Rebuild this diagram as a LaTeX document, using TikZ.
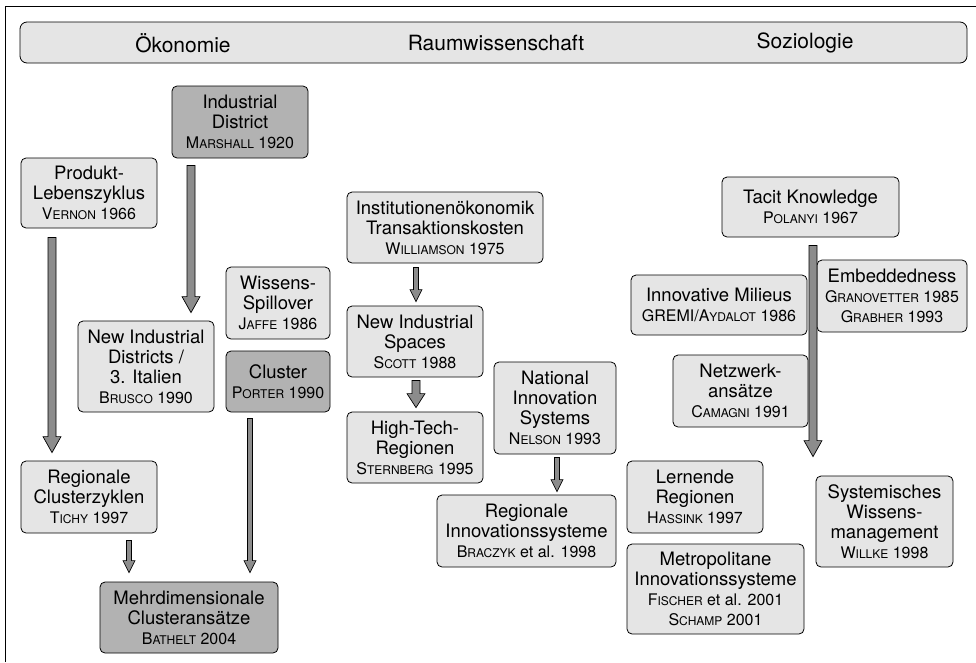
\documentclass[tikz,border=0pt]{standalone}
\usepackage{fontspec}
\setmainfont{TeX Gyre Heros}
\usetikzlibrary{calc}

\definecolor{boxlight}{gray}{0.90}
\definecolor{boxdark}{gray}{0.70}
\definecolor{arrgray}{gray}{0.55}

\newcommand{\kap}[1]{{\fontsize{12}{19}\selectfont\MakeUppercase{#1}}}
\newcommand{\yr}{\fontsize{16}{19}\selectfont}
\newcommand{\blockarrow}[5]{%
    \draw[barrow] let \p1=#1, \p2=#2 in
        (\x1-#3,\y1) -- (\x1-#3,\y2+#5) -- (\x1-#4,\y2+#5) -- (\x1,\y2)
        -- (\x1+#4,\y2+#5) -- (\x1+#3,\y2+#5) -- (\x1+#3,\y1) -- cycle;}

\tikzset{
    box/.style={draw, line width=0.8pt, rounded corners=5pt, fill=boxlight,
        align=center, inner sep=2pt, font=\fontsize{18.5}{20}\selectfont},
    darkbox/.style={box, fill=boxdark},
    barrow/.style={draw, line width=0.7pt, fill=arrgray, line join=miter},
    head/.style={font=\fontsize{21}{24}\selectfont}
}

\begin{document}
\begin{tikzpicture}[x=1pt, y=-1pt]

    \useasboundingbox (0,0) rectangle (976,662);
    \draw[line width=0.8pt] (5,662) -- (5,6) -- (976,6);

    \node[draw, line width=0.8pt, rounded corners=7pt, fill=boxlight,
        minimum width=947pt, minimum height=41pt] (bar) at (493.5,42.5) {};
    \node[head] (oek) at (183,43) {Ökonomie};
    \node[head] (raum) at (496,43) {Raumwissenschaft};
    \node[head] (soz) at (805,43) {Soziologie};

    % Oekonomie
    \node[darkbox, minimum width=136pt, minimum height=72pt] (indDist) at (240,122)
        {Industrial\\District\\\yr M\kap{arshall} 1920};
    \node[box, minimum width=136pt, minimum height=70pt] (produkt) at (89,193)
        {Produkt-\\Lebenszyklus\\\yr V\kap{ernon} 1966};
    \node[box, minimum width=104pt, minimum height=72pt] (wissens) at (278,303)
        {Wissens-\\Spillover\\\yr J\kap{affe} 1986};
    \node[darkbox, minimum width=104pt, minimum height=61pt] (cluster) at (278,381.5)
        {Cluster\\\yr P\kap{orter} 1990};
    \node[box, minimum width=136pt, minimum height=91pt] (newDist) at (146,366.5)
        {New Industrial\\Districts /\\3. Italien\\\yr B\kap{rusco} 1990};
    \node[box, minimum width=136pt, minimum height=72pt] (regClust) at (89,497)
        {Regionale\\Clusterzyklen\\\yr T\kap{ichy} 1997};
    \node[darkbox, minimum width=178pt, minimum height=71pt] (mehrdim) at (189,617.5)
        {Mehrdimensionale\\Clusteransätze\\\yr B\kap{athelt} 2004};

    % Raumwissenschaft
    \node[box, minimum width=196pt, minimum height=71pt] (instOek) at (445,227.5)
        {Institutionenökonomik\\Transaktionskosten\\\yr W\kap{illiamson} 1975};
    \node[box, minimum width=136pt, minimum height=71pt] (newSpaces) at (415,341.5)
        {New Industrial\\Spaces\\\yr S\kap{cott} 1988};
    \node[box, minimum width=136pt, minimum height=71pt] (highTech) at (415,447.5)
        {High-Tech-\\Regionen\\\yr S\kap{ternberg} 1995};
    \node[box, minimum width=122pt, minimum height=92pt] (natInno) at (555,408)
        {National\\Innovation\\Systems\\\yr N\kap{elson} 1993};
    \node[box, minimum width=179pt, minimum height=72pt] (regInno) at (526.5,531)
        {Regionale\\Innovationssysteme\\\yr B\kap{raczyk} et al. 1998};

    % Soziologie
    \node[box, minimum width=177pt, minimum height=60pt] (tacit) at (810.5,207)
        {Tacit Knowledge\\\yr P\kap{olanyi} 1967};
    \node[box, minimum width=176pt, minimum height=60pt] (innoMil) at (719,305)
        {Innovative Milieus\\\yr GREMI/A\kap{ydalot} 1986};
    \node[box, minimum width=150pt, minimum height=72pt] (embedded) at (892,296)
        {Embeddedness\\\yr G\kap{ranovetter} 1985\\\yr G\kap{rabher} 1993};
    \node[box, minimum width=135pt, minimum height=72pt] (netzwerk) at (740.5,391)
        {Netzwerk-\\ansätze\\\yr C\kap{amagni} 1991};
    \node[box, minimum width=136pt, minimum height=72pt] (lernend) at (695,497)
        {Lernende\\Regionen\\\yr H\kap{assink} 1997};
    \node[box, minimum width=177pt, minimum height=90pt] (metro) at (715.5,589)
        {Metropolitane\\Innovationssysteme\\\yr F\kap{ischer} et al. 2001\\\yr S\kap{champ} 2001};
    \node[box, minimum width=137pt, minimum height=91pt] (system) at (884.5,521.5)
        {Systemisches\\Wissens-\\management\\\yr W\kap{illke} 1998};

    % Pfeile
    \blockarrow{([xshift=-49pt,yshift=-7pt]indDist.south)}{([yshift=8pt]newDist.north)}{4pt}{9pt}{16pt}
    \blockarrow{([xshift=-37pt,yshift=-9pt]produkt.south)}{([yshift=8pt]regClust.north)}{4pt}{9pt}{16pt}
    \blockarrow{([xshift=-28pt,yshift=-6pt]cluster.south)}{([yshift=9pt]mehrdim.north)}{2.5pt}{6pt}{12pt}
    \blockarrow{([xshift=40pt,yshift=-7pt]regClust.south)}{([yshift=9pt]mehrdim.north)}{2.5pt}{6pt}{12pt}
    \blockarrow{([xshift=-29pt,yshift=-4pt]instOek.south)}{([yshift=4pt]newSpaces.north)}{2.5pt}{6pt}{12pt}
    \blockarrow{([xshift=1pt,yshift=-3pt]newSpaces.south)}{([yshift=4pt]highTech.north)}{4pt}{9pt}{14pt}
    \blockarrow{([xshift=2pt,yshift=-3pt]natInno.south)}{([yshift=3pt]regInno.north)}{2.5pt}{6pt}{12pt}
    \blockarrow{([xshift=2.5pt,yshift=-8pt]tacit.south)}{([yshift=19pt]system.north)}{4pt}{9pt}{16pt}

\end{tikzpicture}
\end{document}
